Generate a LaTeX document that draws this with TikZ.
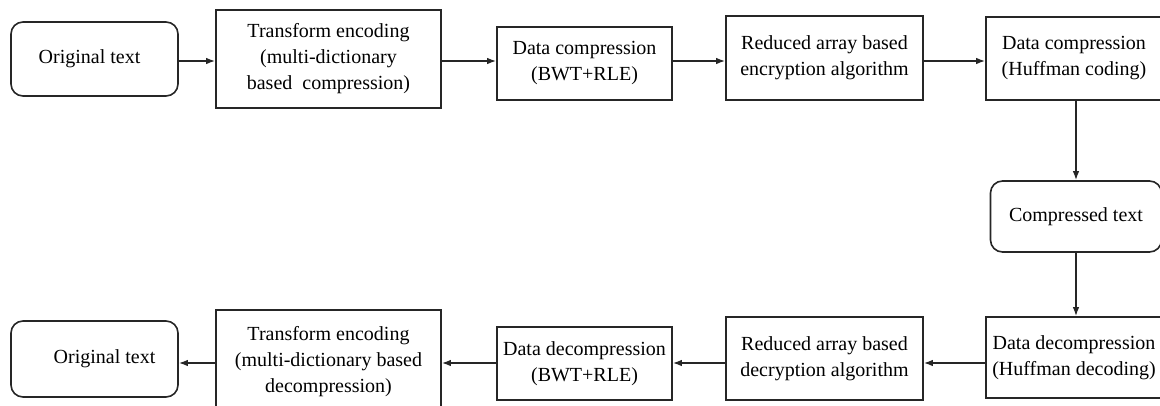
\documentclass[tikz,border=0pt]{standalone}
\usepackage{fontspec}
\setmainfont{Liberation Serif}
\usetikzlibrary{arrows.meta}
\begin{document}
\begin{tikzpicture}[x=1pt,y=-1pt,
  box/.style={draw=black!85, line width=1.6pt, fill=white, align=center,
    inner sep=0pt, font=\fontsize{20}{26}\selectfont},
  rbox/.style={box, rounded corners=12pt},
  arr/.style={draw=black!85, line width=1.5pt, -{Latex[length=9pt,width=6.5pt]}}]
\useasboundingbox (0,0) rectangle (1160,405);

% rows of the connectors
\coordinate (toprow) at (0,61);
\coordinate (botrow) at (0,363);

% compression chain
\node[rbox, minimum width=167pt, minimum height=74pt] (orig1) at (94.5,59)
  {Original text\hspace*{10pt}};
\node[box, minimum width=225pt, minimum height=98pt] (te1) at (328.5,59)
  {Transform encoding\\(multi-dictionary\\based\ \ compression)};
\node[box, minimum width=175pt, minimum height=73pt] (dc1) at (584.5,63.5)
  {Data compression\\(BWT+RLE)};
\node[box, minimum width=197pt, minimum height=84pt] (ra1) at (824.5,58)
  {Reduced array based\\encryption algorithm};
\node[box, minimum width=176pt, minimum height=83pt] (hc1) at (1074,58.5)
  {Data compression\\(Huffman coding)};

% intermediate result
\node[rbox, minimum width=171pt, minimum height=71pt] (ct) at (1076,216.5) {Compressed text};

% decompression chain
\node[box, minimum width=176pt, minimum height=81pt] (hd) at (1074,357.5)
  {Data decompression\\(Huffman decoding)};
\node[box, minimum width=197pt, minimum height=83pt] (rd) at (824.5,358.5)
  {Reduced array based\\decryption algorithm};
\node[box, minimum width=175pt, minimum height=73pt] (dd) at (584.5,363.5)
  {Data decompression\\(BWT+RLE)};
\node[box, minimum width=225pt, minimum height=104pt] (te2) at (328.5,362)
  {Transform encoding\\(multi-dictionary based\\decompression)};
\node[rbox, minimum width=167pt, minimum height=76pt] (orig2) at (94.5,359)
  {\hspace*{20pt}Original text};

% connectors
\draw[arr] (orig1.east |- toprow) -- (te1.west |- toprow);
\draw[arr] (te1.east |- toprow) -- (dc1.west |- toprow);
\draw[arr] (dc1.east |- toprow) -- (ra1.west |- toprow);
\draw[arr] (ra1.east |- toprow) -- (hc1.west |- toprow);
\draw[arr] (ct.north |- hc1.south) -- (ct.north);
\draw[arr] (ct.south) -- (ct.south |- hd.north);
\draw[arr] (hd.west |- botrow) -- (rd.east |- botrow);
\draw[arr] (rd.west |- botrow) -- (dd.east |- botrow);
\draw[arr] (dd.west |- botrow) -- (te2.east |- botrow);
\draw[arr] (te2.west |- botrow) -- (orig2.east |- botrow);
\end{tikzpicture}
\end{document}
